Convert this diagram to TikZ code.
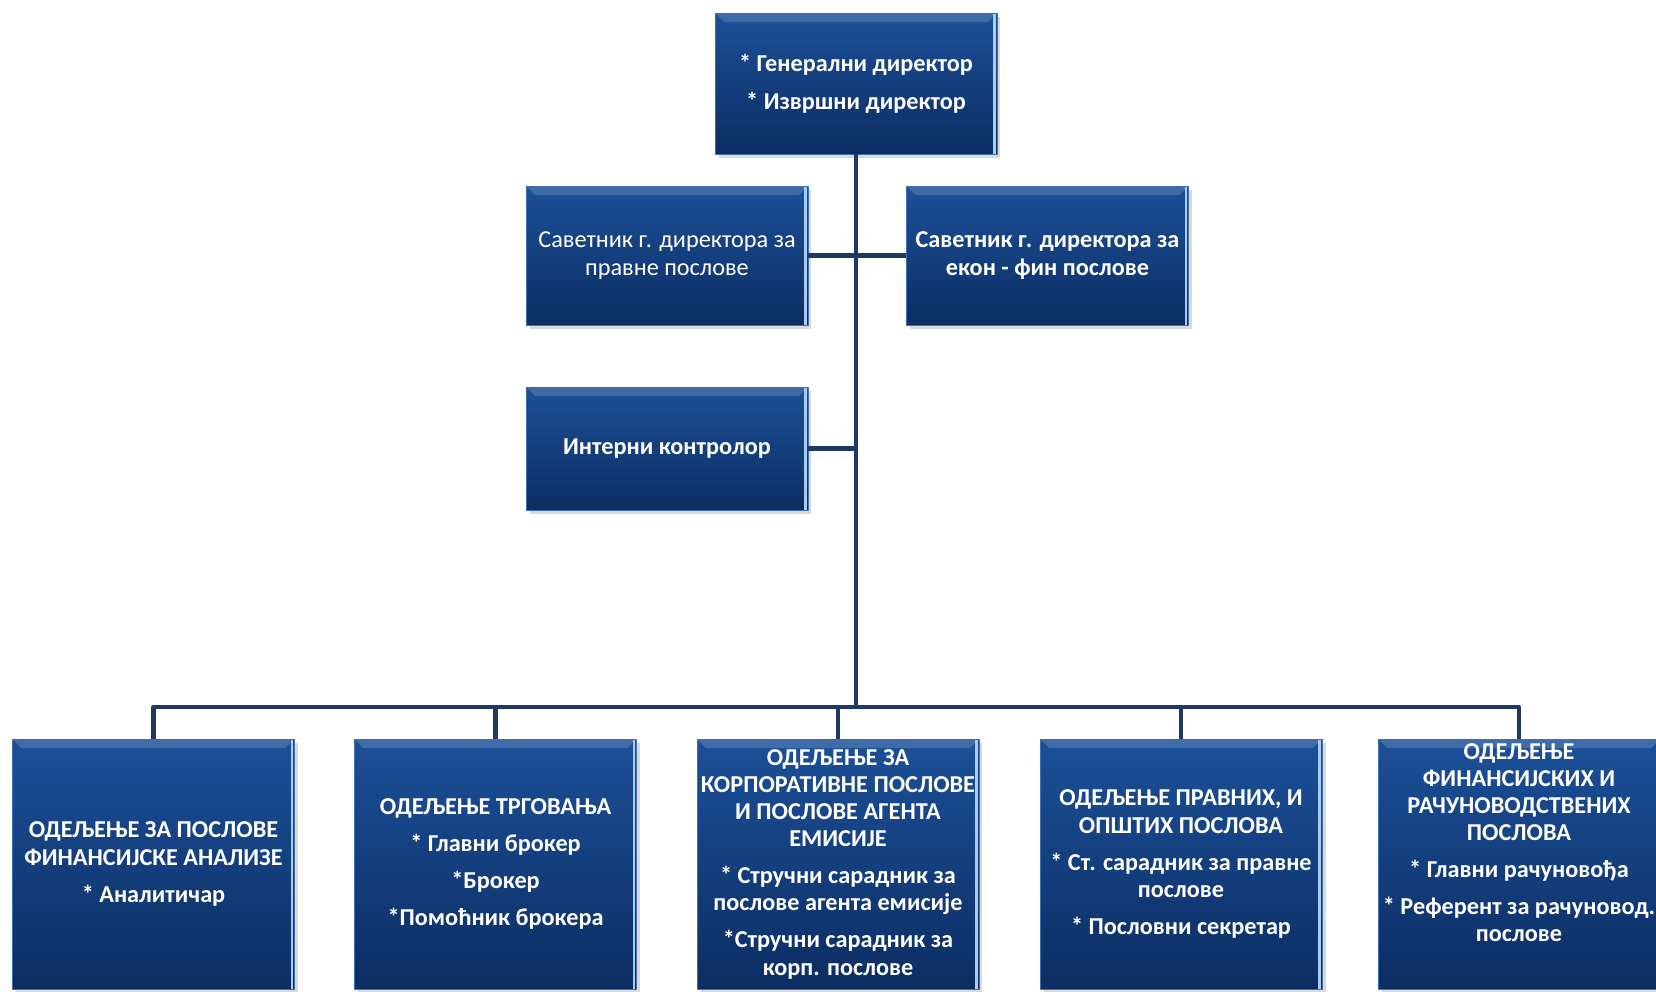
\documentclass[tikz,border=0pt]{standalone}
\usepackage{fontspec}
\setmainfont{Carlito}
\usetikzlibrary{positioning,shadows,calc}
\definecolor{boxtop}{HTML}{1C5098}
\definecolor{boxbot}{HTML}{0C2D62}
\definecolor{boxedge}{HTML}{3E6FB0}
\definecolor{boxlight}{HTML}{A8CCF0}
\definecolor{linkcol}{HTML}{1F3A62}
\tikzset{
  every picture/.style={line join=round, line cap=round},
  orgbox/.style={rectangle, top color=boxtop, bottom color=boxbot, draw=boxedge,
    line width=0.5pt, text=white, align=center, inner sep=2pt, minimum width=5.64cm,
    font=\fontsize{13.8}{15.5}\selectfont\bfseries,
    drop shadow={shadow xshift=2pt, shadow yshift=-2.5pt, opacity=0.3},
    path picture={
      \fill[white, opacity=0.16] (path picture bounding box.north west)
        -- (path picture bounding box.north east)
        -- ([shift={(-0.18cm,-0.18cm)}]path picture bounding box.north east)
        -- ([shift={(0.18cm,-0.18cm)}]path picture bounding box.north west) -- cycle;
      \draw[boxlight, line width=1.2pt] ([xshift=-0.05cm]path picture bounding box.north east)
        -- ([xshift=-0.05cm]path picture bounding box.south east);
    }},
  plain/.style={font=\fontsize{13.8}{15.5}\selectfont},
  link/.style={draw=linkcol, line width=2.3pt, line cap=butt},
}

\begin{document}
\begin{tikzpicture}[x=0.02cm,y=-0.02cm]
\useasboundingbox (0,0) rectangle (1656,991);
% management
\node[orgbox, minimum height=2.82cm] (gd) at (856,83.5) {* Генерални директор\\[6pt]* Извршни директор};
\node[orgbox, plain, minimum height=2.78cm] (sav1) at (667,255.5) {Саветник г. директора за\\правне послове};
\node[orgbox, minimum height=2.78cm] (sav2) at (1047.5,255.5) {Саветник г. директора за\\екон - фин послове};
\node[orgbox, minimum height=2.46cm] (ic) at (667,448.5) {Интерни контролор};
% departments
\node[orgbox, minimum height=5cm] (d1) at (153.5,864) {ОДЕЉЕЊЕ ЗА ПОСЛОВЕ\\ФИНАНСИЈСКЕ АНАЛИЗЕ\\[5.5pt]* Аналитичар};
\node[orgbox, minimum height=5cm] (d2) at (495.5,864) {ОДЕЉЕЊЕ ТРГОВАЊА\\[5.5pt]* Главни брокер\\[5.5pt]*Брокер\\[5.5pt]*Помоћник брокера};
\node[orgbox, minimum height=5cm] (d3) at (838,864) {ОДЕЉЕЊЕ ЗА\\КОРПОРАТИВНЕ ПОСЛОВЕ\\И ПОСЛОВЕ АГЕНТА\\ЕМИСИЈЕ\\[5.5pt]* Стручни сарадник за\\послове агента емисије\\[5.5pt]*Стручни сарадник за\\корп. послове};
\node[orgbox, minimum height=5cm] (d4) at (1181,864) {ОДЕЉЕЊЕ ПРАВНИХ, И\\ОПШТИХ ПОСЛОВА\\[5.5pt]* Ст. сарадник за правне\\послове\\[5.5pt]* Пословни секретар};
\node[orgbox, minimum height=5cm] (d5) at (1519,864) {ОДЕЉЕЊЕ\\ФИНАНСИЈСКИХ И\\РАЧУНОВОДСТВЕНИХ\\ПОСЛОВА\\[5.5pt]* Главни рачуновођа\\[5.5pt]* Референт за рачуновод.\\послове\\[9pt]~};
% lines
\coordinate (bus) at (856,707);
\draw[link] (gd.south) -- (bus);
\draw[link] (sav1.east) -- (sav2.west);
\draw[link] (ic.east) -- (ic.east -| bus);
\draw[link] (d1.north) |- (bus) -| (d5.north);
\foreach \d in {d2,d3,d4}
  \draw[link] (\d.north) -- (\d.north |- bus);
\end{tikzpicture}
\end{document}
